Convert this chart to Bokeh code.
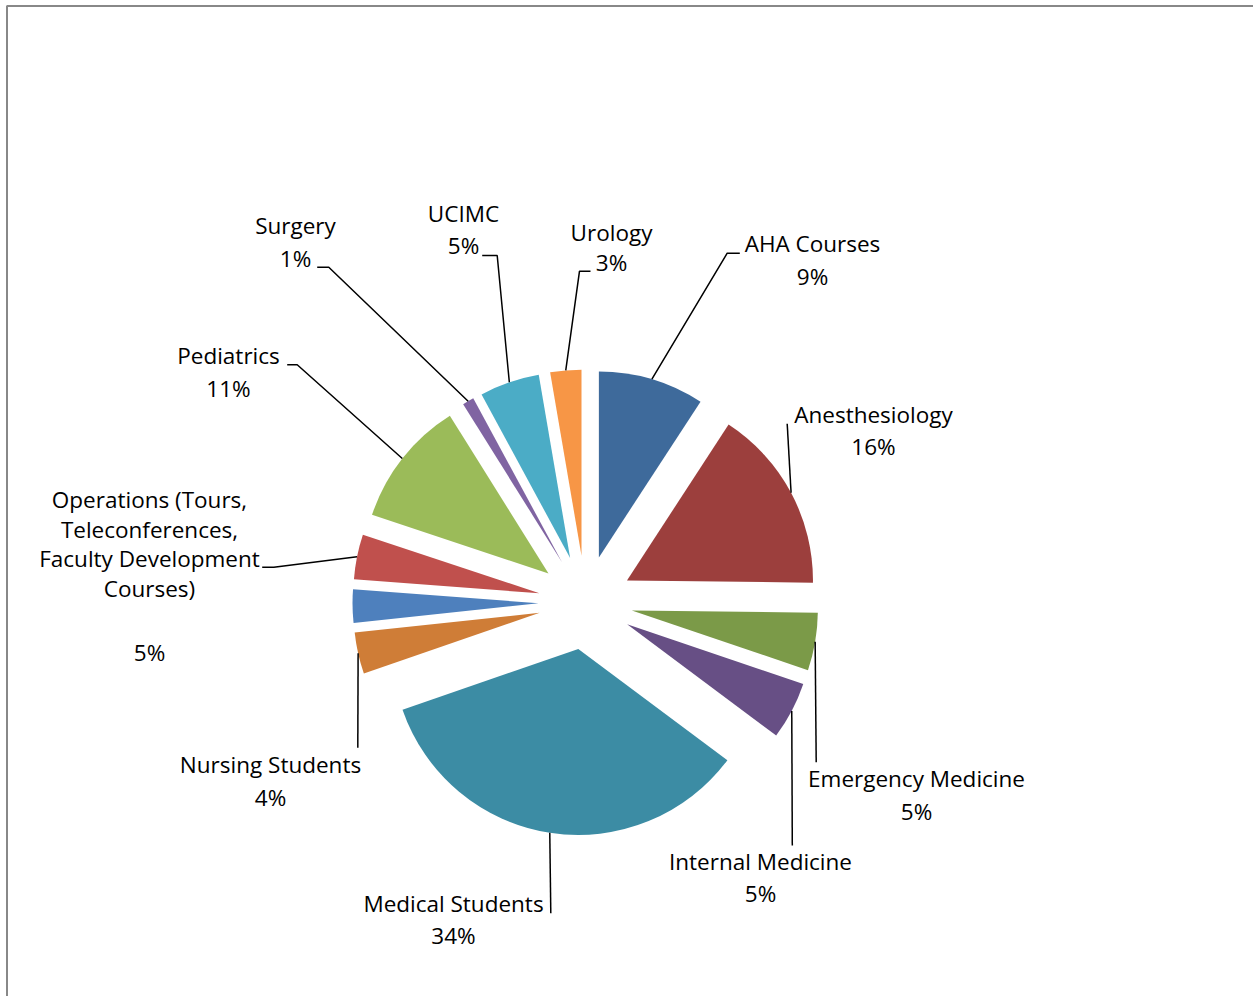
import math
from bokeh.plotting import figure
from bokeh.models import Range1d, ColumnDataSource
from bokeh.core.properties import value
from bokeh.embed import file_html
from bokeh.resources import INLINE

# ---------------- data ----------------
categories = ["AHA Courses", "Anesthesiology", "Emergency Medicine", "Internal Medicine",
              "Medical Students", "Nursing Students", "",
              "Operations (Tours, Teleconferences, Faculty Development Courses)",
              "Pediatrics", "Surgery", "UCIMC", "Urology"]
shares = [9.2, 16.0, 5.0, 5.0, 34.5, 3.6, 2.9, 3.9, 11.0, 1.0, 5.2, 2.7]
pct_labels = ["9%", "16%", "5%", "5%", "34%", "4%", "", "5%", "11%", "1%", "5%", "3%"]

# ---------------- styles ----------------
colors = ["#3E6A9B", "#9C3F3D", "#7B9A48", "#674F85", "#3C8CA4", "#CF7D37",
          "#4E80BD", "#C0504D", "#9BBB59", "#8064A2", "#4BACC6", "#F79646"]

# ---------------- layout (screen px of the page) ----------------
W, H = 1253, 996
def SY(y):
    return H - y

CX, CY = 585, 602        # pie centre
R = 186                  # radius
EXPL = 47                # explosion offset
FONT = "Open Sans"
FSIZE = "22.5px"
TEXT_SHIFT = -10         # correction of rendered baseline (screen px)

# label layout: centre x, name lines, baselines (name lines..., pct), elbow, end
label_layout = [
    dict(x=812, lines=["AHA Courses"], base=[253, 286], elbow=(726.7, 252.7), end=(739.3, 252.7)),
    dict(x=873, lines=["Anesthesiology"], base=[424, 456], elbow=(786.7, 423.3), end=(786.7, 423.3)),
    dict(x=916, lines=["Emergency Medicine"], base=[788, 821], elbow=(815.7, 761.7), end=(815.7, 761.7)),
    dict(x=760, lines=["Internal Medicine"], base=[871, 903], elbow=(791.8, 845), end=(791.8, 845)),
    dict(x=453, lines=["Medical Students"], base=[913, 945], elbow=(550.3, 912.7), end=(550.3, 912.7)),
    dict(x=270, lines=["Nursing Students"], base=[774, 807], elbow=(357.3, 747.3), end=(357.3, 747.3)),
    None,
    dict(x=149, lines=["Operations (Tours,", "Teleconferences,", "Faculty Development", "Courses)"],
         base=[509, 538.5, 568, 597.5, 661.5], elbow=(273.3, 566.7), end=(261.7, 566.7)),
    dict(x=228, lines=["Pediatrics"], base=[365, 398], elbow=(296.7, 364.3), end=(286.7, 364.3)),
    dict(x=295, lines=["Surgery"], base=[235, 268], elbow=(328.3, 266.7), end=(316.7, 266.7)),
    dict(x=463, lines=["UCIMC"], base=[223, 255], elbow=(496.7, 255), end=(481.7, 255)),
    dict(x=611, lines=["Urology"], base=[242, 272], elbow=(579, 270.7), end=(590, 270.7)),
]

p = figure(width=W, height=H, output_backend="svg", toolbar_location=None,
           x_range=Range1d(0, W), y_range=Range1d(0, H),
           min_border=0, min_border_left=0, min_border_right=0,
           min_border_top=0, min_border_bottom=0)
p.axis.visible = False
p.xgrid.visible = False
p.ygrid.visible = False
p.outline_line_color = None
p.background_fill_color = "white"
p.border_fill_color = "white"

# chart-area border (top and left visible)
p.line([6.5, 6.5, W], [0, SY(5.5), SY(5.5)], line_color="#888888", line_width=2)

# ---------------- slices ----------------
total = sum(shares)
xs, ys, starts, ends, mids = [], [], [], [], []
cum = 0.0
for s in shares:
    a1 = 360.0 * cum / total
    cum += s
    a2 = 360.0 * cum / total
    b = math.radians((a1 + a2) / 2.0)
    mids.append(b)
    xs.append(CX + EXPL * math.sin(b))
    ys.append(SY(CY) + EXPL * math.cos(b))
    starts.append(math.radians(90.0 - a2))
    ends.append(math.radians(90.0 - a1))

src = ColumnDataSource(dict(x=xs, y=ys, start=starts, end=ends, color=colors, cat=categories, share=shares))
p.wedge(x="x", y="y", radius=R, radius_units="screen", start_angle="start", end_angle="end",
        direction="anticlock", fill_color="color", line_color=None, source=src)

# ---------------- leader lines & labels ----------------
lx, ly = [], []
tx, ty, tt = [], [], []
for i, lay in enumerate(label_layout):
    if lay is None:
        continue
    b = mids[i]
    sx = CX + (EXPL + R) * math.sin(b)
    sy = SY(CY) + (EXPL + R) * math.cos(b)
    lx.append([sx, lay["elbow"][0], lay["end"][0]])
    ly.append([sy, SY(lay["elbow"][1]), SY(lay["end"][1])])
    texts = lay["lines"] + [pct_labels[i]]
    for t, bl in zip(texts, lay["base"]):
        tx.append(lay["x"])
        ty.append(SY(bl + TEXT_SHIFT))
        tt.append(t)

p.multi_line(xs=lx, ys=ly, line_color="black", line_width=1.5)
p.text(x=tx, y=ty, text=tt, text_align="center", text_baseline="alphabetic",
       text_font=value(FONT), text_font_size=FSIZE, text_color="black")

open("out.html", "w").write(file_html(p, INLINE))
